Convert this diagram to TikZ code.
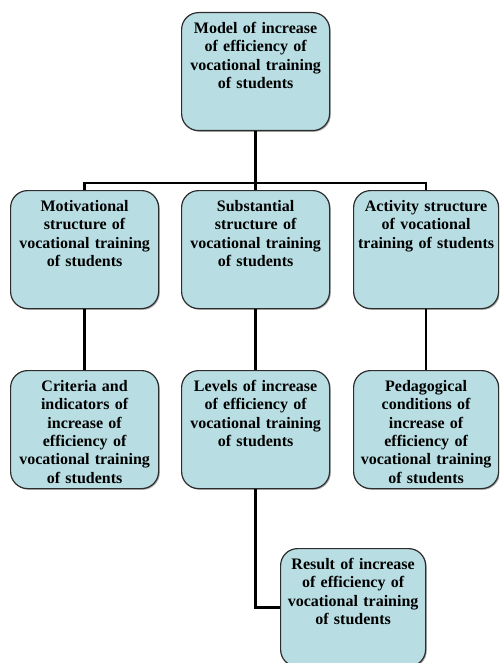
\documentclass[tikz,border=0pt]{standalone}
\usepackage{fontspec}
\setmainfont{Liberation Serif}
\usetikzlibrary{shadows}
\definecolor{boxfill}{RGB}{184,222,227}
\definecolor{boxline}{RGB}{45,45,45}
\tikzset{
  blk/.style={draw=boxline, fill=boxfill, line width=1.2pt, rounded corners=17pt,
    anchor=north west, align=center, text width=#1-6pt, minimum width=#1,
    inner xsep=3pt, inner ysep=9pt, text height=12pt, text depth=88pt,
    font=\fontsize{16}{18.3}\selectfont\bfseries,
    drop shadow={shadow xshift=1.2pt, shadow yshift=-1.2pt, fill=black!55, opacity=.6}},
  blk/.default=148pt,
  link/.style={line width=2.6pt, black}
}
\begin{document}
\begin{tikzpicture}[x=1pt, y=-1pt]
    \clip (0,0) rectangle (499,663);
    % Draw top box
    \node[blk] (model) at (181,12) {Model of increase\\ of efficiency of\\ vocational training\\ of students};
    % Draw structure boxes
    \node[blk] (motiv) at (10,190)  {Motivational\\ structure of\\ vocational training\\ of students};
    \node[blk] (subst) at (181,190) {Substantial\\ structure of\\ vocational training\\ of students};
    \node[blk=145pt] (activ) at (353,190) {Activity structure\\ of vocational\\ training of students};
    % Draw lower boxes
    \node[blk] (crit) at (10,370)   {Criteria and\\ indicators of\\ increase of\\ efficiency of\\ vocational training\\ of students};
    \node[blk] (levels) at (181,370) {Levels of increase\\ of efficiency of\\ vocational training\\ of students};
    \node[blk=145pt] (pedag) at (353,370) {Pedagogical\\ conditions of\\ increase of\\ efficiency of\\ vocational training\\ of students};
    \node[blk=145pt] (result) at (280,548) {Result of increase\\ of efficiency of\\ vocational training\\ of students};
    % Draw links
    \draw[link] (model.south) -- (subst.north);
    \draw[link] (motiv.north) -- ++(0,-7) -| (activ.north);
    \draw[link] (motiv.south) -- (crit.north);
    \draw[link] (subst.south) -- (levels.north);
    \draw[link] (activ.south) -- (pedag.north);
    \draw[link] (levels.south) |- (result.west);
\end{tikzpicture}
\end{document}
